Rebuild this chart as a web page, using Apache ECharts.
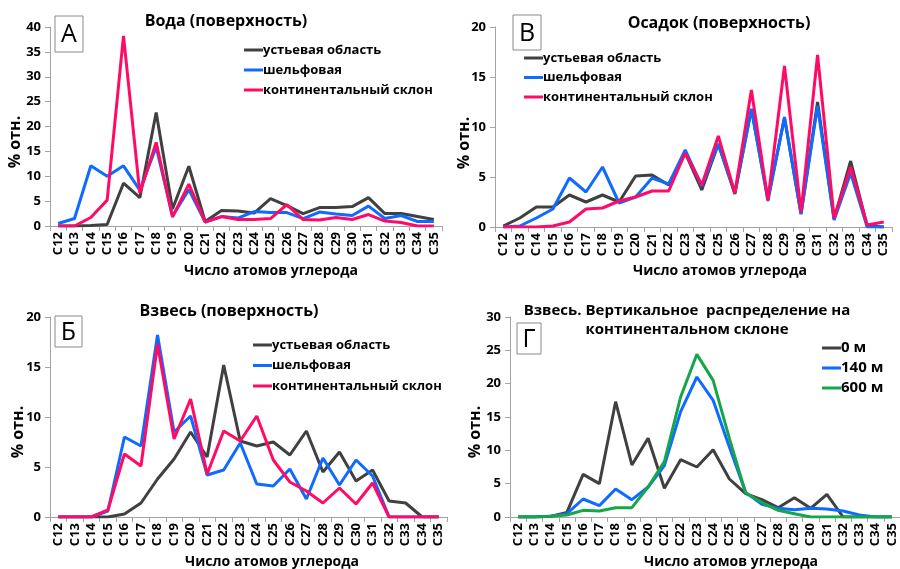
<!DOCTYPE html>
<html>
<head>
<meta charset="utf-8">
<script src="https://cdn.jsdelivr.net/npm/echarts@6/dist/echarts.min.js"></script>
<style>
  html, body { margin: 0; padding: 0; background: #fff; }
  #chart { width: 900px; height: 569px; }
</style>
</head>
<body>
<div id="chart"></div>
<script>
// Carbon-number categories (n-alkanes C12–C35)
const carbonLabels = ['C12','C13','C14','C15','C16','C17','C18','C19','C20','C21','C22','C23',
                      'C24','C25','C26','C27','C28','C29','C30','C31','C32','C33','C34','C35'];
const yTicksWater = [0, 5, 10, 15, 20, 25, 30, 35, 40];
const yTicksSediment = [0, 5, 10, 15, 20];
const yTicksSuspension = [0, 5, 10, 15, 20];
const yTicksVertical = [0, 5, 10, 15, 20, 25, 30];

const zoneNames = ['устьевая область', 'шельфовая', 'континентальный склон'];
const depthNames = ['0 м', '140 м', '600 м'];

// А — water, surface layer
const waterMouth = [0, 0, 0.1, 0.3, 8.6, 5.7, 22.8, 3.4, 12.0, 0.9, 3.1, 3.0,
                    2.6, 5.5, 4.1, 2.5, 3.7, 3.7, 3.9, 5.7, 2.5, 2.5, 1.9, 1.3];
const waterShelf = [0.5, 1.5, 12.1, 10.0, 12.1, 7.2, 15.9, 2.0, 7.3, 0.8, 1.9, 1.6,
                    2.9, 2.7, 2.7, 1.5, 2.8, 2.4, 2.1, 4.0, 1.5, 2.1, 0.9, 0.9];
const waterSlope = [0, 0, 1.7, 5.2, 38.2, 6.6, 16.8, 1.8, 8.4, 0.8, 1.9, 1.3,
                    1.3, 1.5, 4.3, 1.3, 1.2, 1.7, 1.3, 2.3, 1.0, 0.7, 0, 0];

// В — bottom sediment, surface layer
const sedMouth = [0.1, 0.9, 2.0, 2.0, 3.2, 2.5, 3.2, 2.5, 5.1, 5.2, 4.2, 7.4,
                  3.7, 8.3, 3.3, 11.8, 2.8, 10.9, 1.3, 12.5, 0.8, 6.6, 0.1, 0];
const sedShelf = [0, 0.1, 0.9, 1.8, 4.9, 3.5, 6.0, 2.4, 3.0, 4.9, 4.3, 7.7,
                  4.1, 8.3, 3.4, 11.8, 2.6, 11.0, 1.3, 12.1, 0.7, 5.4, 0, 0];
const sedSlope = [0, 0, 0, 0.1, 0.5, 1.8, 1.9, 2.6, 3.0, 3.6, 3.6, 7.4,
                  4.2, 9.1, 3.4, 13.7, 2.7, 16.1, 1.5, 17.2, 0.9, 6.0, 0.2, 0.5];

// Б — suspended matter, surface layer
const suspMouth = [0, 0, 0, 0, 0.3, 1.4, 3.8, 5.8, 8.5, 6.0, 15.2, 7.6,
                   7.1, 7.5, 6.2, 8.6, 4.5, 6.5, 3.6, 4.7, 1.6, 1.4, 0, 0];
const suspShelf = [0, 0, 0, 0.6, 8.0, 7.1, 18.2, 8.5, 10.1, 4.2, 4.7, 7.4,
                   3.3, 3.1, 4.8, 1.8, 5.9, 3.2, 5.7, 4.1, 0, 0, 0, 0];
const suspSlope = [0, 0, 0, 0.7, 6.3, 5.1, 17.3, 7.8, 11.8, 4.3, 8.6, 7.6,
                   10.1, 5.7, 3.5, 2.6, 1.4, 2.9, 1.3, 3.4, 0, 0, 0, 0];

// Г — suspended matter on the continental slope, by depth
const depth0 = [0, 0, 0.1, 0.7, 6.4, 5.0, 17.3, 7.8, 11.8, 4.3, 8.6, 7.5,
                10.1, 5.7, 3.5, 2.6, 1.4, 2.9, 1.3, 3.4, 0, 0, 0, 0];
const depth140 = [0, 0, 0.1, 0.5, 2.7, 1.7, 4.2, 2.6, 4.5, 7.7, 15.8, 21.0,
                  17.5, 10.5, 3.7, 1.9, 1.3, 1.1, 1.3, 1.2, 0.9, 0.3, 0, 0];
const depth600 = [0, 0, 0.1, 0.3, 1.0, 0.9, 1.4, 1.4, 4.5, 8.3, 18.0, 24.4,
                  20.5, 11.8, 3.6, 2.2, 1.0, 0.5, 0, 0, 0, 0, 0, 0];

const FONT = '"Open Sans", "DejaVu Sans", sans-serif';
const AXIS_GREY = '#a3a3a3';
const C_DARK = '#404040';
const C_BLUE = '#0f6bff';
const C_PINK = '#ff0a66';
const C_GREEN = '#16a64a';

const grids = [
  { left: 50,  top: 27,  width: 392, height: 199 },  // А
  { left: 495, top: 27,  width: 397, height: 200 },  // В
  { left: 50,  top: 317, width: 397, height: 200 },  // Б
  { left: 510, top: 317, width: 391, height: 200 }   // Г
];

function xAxisFor(gi) {
  return {
    type: 'category', gridIndex: gi, data: carbonLabels, boundaryGap: true,
    axisLine: { lineStyle: { color: AXIS_GREY, width: 1 } },
    axisTick: { show: true, length: 5, lineStyle: { color: AXIS_GREY } },
    axisLabel: { rotate: 90, interval: 0, margin: 6, color: '#000',
                 fontFamily: FONT, fontWeight: 'bold', fontSize: 13 },
    splitLine: { show: false }
  };
}
function yAxisFor(gi, ticks) {
  return {
    type: 'value', gridIndex: gi, min: ticks[0], max: ticks[ticks.length - 1],
    interval: ticks[1] - ticks[0],
    axisLine: { show: true, lineStyle: { color: AXIS_GREY, width: 1 } },
    axisTick: { show: true, length: 5, lineStyle: { color: AXIS_GREY } },
    axisLabel: { margin: 9, color: '#000', fontFamily: FONT, fontWeight: 'bold', fontSize: 13 },
    splitLine: { show: false }
  };
}
function lineSeries(gi, name, data, color) {
  return {
    type: 'line', name, data, xAxisIndex: gi, yAxisIndex: gi,
    symbol: 'none', smooth: false, animation: false,
    lineStyle: { width: 3, color }, itemStyle: { color }
  };
}
function legendAt(left, top, names, size, gap) {
  return {
    orient: 'vertical', left, top, data: names, icon: 'rect', padding: 0,
    itemWidth: 19, itemHeight: 3, itemGap: gap, selectedMode: false,
    textStyle: { fontFamily: FONT, fontWeight: 'bold', fontSize: size, color: '#000',
                 lineHeight: 16, padding: [0, 0, 0, -5] }
  };
}
function label(x, y, text, size) {
  return {
    type: 'text', x, y,
    style: { text, fontFamily: FONT, fontWeight: 'bold', fontSize: size, fill: '#000',
             align: 'center', verticalAlign: 'middle' }
  };
}
function vLabel(x, y, text) {
  return { type: 'text', x, y, rotation: Math.PI / 2,
    style: { text, fontFamily: FONT, fontWeight: 'bold', fontSize: 16, fill: '#000',
             align: 'center', verticalAlign: 'middle' } };
}
function panelTag(x, y, w, h, letter) {
  return [
    { type: 'rect', shape: { x, y, width: w, height: h },
      style: { fill: '#fff', stroke: '#8a8a8a', lineWidth: 1 } },
    { type: 'text', x: x + w / 2, y: y + h / 2 + 1,
      style: { text: letter, fontFamily: FONT, fontSize: 25, fill: '#000',
               align: 'center', verticalAlign: 'middle' } }
  ];
}

const option = {
  backgroundColor: '#fff',
  animation: false,
  grid: grids,
  xAxis: [xAxisFor(0), xAxisFor(1), xAxisFor(2), xAxisFor(3)],
  yAxis: [yAxisFor(0, yTicksWater), yAxisFor(1, yTicksSediment),
          yAxisFor(2, yTicksSuspension), yAxisFor(3, yTicksVertical)],
  legend: [
    legendAt(244, 42, zoneNames, 13, 4),
    legendAt(524, 50, zoneNames, 13, 3.5),
    legendAt(253, 337, zoneNames, 13, 4.5),
    legendAt(822, 340, depthNames, 15, 4)
  ],
  series: [
    lineSeries(0, zoneNames[0], waterMouth, C_DARK),
    lineSeries(0, zoneNames[1], waterShelf, C_BLUE),
    lineSeries(0, zoneNames[2], waterSlope, C_PINK),
    lineSeries(1, zoneNames[0], sedMouth, C_DARK),
    lineSeries(1, zoneNames[1], sedShelf, C_BLUE),
    lineSeries(1, zoneNames[2], sedSlope, C_PINK),
    lineSeries(2, zoneNames[0], suspMouth, C_DARK),
    lineSeries(2, zoneNames[1], suspShelf, C_BLUE),
    lineSeries(2, zoneNames[2], suspSlope, C_PINK),
    lineSeries(3, depthNames[0], depth0, C_DARK),
    lineSeries(3, depthNames[1], depth140, C_BLUE),
    lineSeries(3, depthNames[2], depth600, C_GREEN)
  ],
  graphic: [
    // panel titles
    label(226, 21, 'Вода (поверхность)', 16),
    label(719, 23, 'Осадок (поверхность)', 16),
    label(229, 311, 'Взвесь (поверхность)', 16),
    label(687, 311, 'Взвесь. Вертикальное  распределение на', 15),
    label(687, 330, 'континентальном склоне', 15),
    // y-axis names
    vLabel(15, 142, '% отн.'),
    vLabel(464, 143, '% отн.'),
    vLabel(18, 432, '% отн.'),
    vLabel(475, 432, '% отн.'),
    // x-axis names
    label(271, 271, 'Число атомов углерода', 14),
    label(720, 271, 'Число атомов углерода', 14),
    label(272, 562, 'Число атомов углерода', 14),
    label(731, 562, 'Число атомов углерода', 14),
    // panel letters
    ...panelTag(55, 16, 28, 36, 'А'),
    ...panelTag(513, 15, 28, 35, 'В'),
    ...panelTag(55, 316, 27, 31, 'Б'),
    ...panelTag(517, 323, 24, 31, 'Г')
  ]
};

const chart = echarts.init(document.getElementById('chart'), null, { renderer: 'canvas' });
chart.setOption(option);
</script>
</body>
</html>
